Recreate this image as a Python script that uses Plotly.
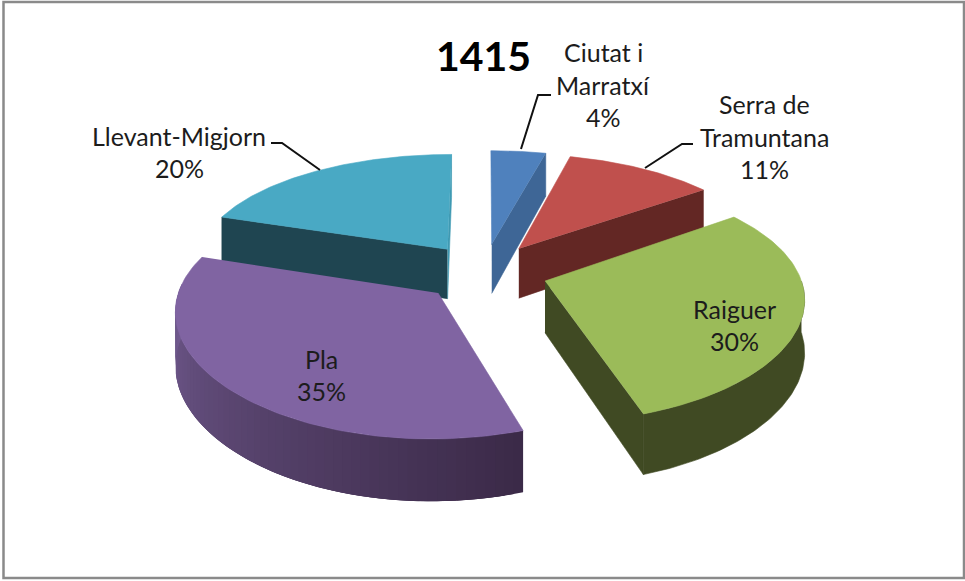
import numpy as np
import plotly.graph_objects as go

# ---- data ----
categories = ["Ciutat i Marratxí", "Serra de Tramuntana", "Raiguer", "Pla", "Llevant-Migjorn"]
values = [4, 11, 30, 35, 20]
title_text = "1415"
top_colors = ["#4f81bd", "#c0504d", "#9bbb59", "#8064a2", "#49a9c4"]
wall_colors = ["#3e6696", "#632724", "#404a23", "#5a4674", "#1f4551"]

# ---- projection of the tilted, exploded pie (circle in a plane seen in perspective) ----
CX, CY, RX, RY, KX, KY, EXPLODE, DEPTH = 484.0, 272.0, 254.0, 116.0, 0.125, 0.155, 0.25, 51.0


def project(u, v, down=0.0):
    sx = 1.0 / (1.0 + KX * v)
    sy = 1.0 / (1.0 + KY * v)
    return CX + RX * u * sx, CY - RY * v * sy + down * sy


total = sum(values)
edges = np.cumsum([0] + values) / total * 2 * np.pi
fig = go.Figure()


def poly(xs, ys, color, lw=0.6):
    fig.add_trace(go.Scatter(x=list(xs), y=list(ys), mode="lines", fill="toself", fillcolor=color,
                             line=dict(color=color, width=lw), hoverinfo="skip", showlegend=False))


def mix(c1, c2, f):
    a = [int(c1[i:i + 2], 16) for i in (1, 3, 5)]
    b = [int(c2[i:i + 2], 16) for i in (1, 3, 5)]
    return "#%02x%02x%02x" % tuple(int(round(p + (q - p) * f)) for p, q in zip(a, b))


def slice_geo(i):
    t0, t1 = edges[i], edges[i + 1]
    mid = (t0 + t1) / 2
    return t0, t1, EXPLODE * np.sin(mid), EXPLODE * np.cos(mid)


def draw(i):
    t0, t1, au, av = slice_geo(i)
    # radial walls
    for t in (t0, t1):
        ru, rv = au + np.sin(t), av + np.cos(t)
        normal_v = np.sin(t) if t == t0 else -np.sin(t)
        sliver = t == t1 and i == 4
        if normal_v < -1e-9 or sliver:
            x1, y1 = project(au, av)
            x2, y2 = project(ru, rv)
            x3, y3 = project(ru, rv, DEPTH)
            x4, y4 = project(au, av, DEPTH)
            c = "#3f9ab3" if sliver else wall_colors[i]
            poly([x1, x2, x3, x4], [y1, y2, y3, y4], c)
    # rim wall; the purple one is shaded along its length with overlapping strips
    lo, hi = max(t0, np.pi / 2), min(t1, 3 * np.pi / 2 + 0.08)
    if hi > lo:
        if i == 3:
            n = 60
            ts = np.linspace(lo, hi, n + 1)
            for j in range(n):
                tt = np.linspace(ts[j], ts[min(j + 3, n)], 6)
                u, v = au + np.sin(tt), av + np.cos(tt)
                xa, ya = project(u, v)
                xb, yb = project(u, v, DEPTH)
                poly(np.r_[xa, xb[::-1]], np.r_[ya, yb[::-1]], mix("#3b2a48", "#725b90", j / (n - 1)), lw=0)
        else:
            tt = np.linspace(lo, hi, 80)
            u, v = au + np.sin(tt), av + np.cos(tt)
            xa, ya = project(u, v)
            xb, yb = project(u, v, DEPTH)
            poly(np.r_[xa, xb[::-1]], np.r_[ya, yb[::-1]], wall_colors[i])
    # top face
    tt = np.linspace(t0, t1, 90)
    u = np.r_[au, au + np.sin(tt)]
    v = np.r_[av, av + np.cos(tt)]
    x, y = project(u, v)
    poly(x, y, top_colors[i])


for i in [0, 1, 4, 2, 3]:
    draw(i)

# ---- leader lines ----
leaders = [([521, 538, 551], [149, 95, 95]),
           ([645, 682, 693], [168, 144, 144]),
           ([320, 282, 271], [170, 143, 143])]
for lx, ly in leaders:
    fig.add_trace(go.Scatter(x=lx, y=ly, mode="lines", line=dict(color="#111111", width=2),
                             hoverinfo="skip", showlegend=False))

# ---- labels ----
pct = [f"{round(v / total * 100)}%" for v in values]
label_lines = [
    (["Ciutat i", "Marratxí", pct[0]], 603, [52, 85, 117]),
    (["Serra de", "Tramuntana", pct[1]], 764, [104, 137, 169]),
    ([categories[2], pct[2]], 734, [309, 341]),
    ([categories[3], pct[3]], 321, [359, 391]),
    ([categories[4], pct[4]], 179, [136, 168]),
]
annotations = [dict(x=483, y=55, text=f"<b>{title_text}</b>", showarrow=False, xanchor="center", yanchor="middle",
                    font=dict(family="Lato", size=41, color="#000000"))]
for lines, lx, lys in label_lines:
    for txt, ly in zip(lines, lys):
        annotations.append(dict(x=lx, y=ly, text=txt, showarrow=False, xanchor="center", yanchor="middle",
                                font=dict(family="Lato", size=25, color="#1c1c1c")))

fig.update_layout(
    width=965, height=581, margin=dict(l=0, r=0, t=0, b=0),
    paper_bgcolor="white", plot_bgcolor="white", showlegend=False,
    xaxis=dict(range=[0, 965], visible=False, fixedrange=True),
    yaxis=dict(range=[581, 0], visible=False, fixedrange=True),
    annotations=annotations,
    shapes=[dict(type="rect", xref="x", yref="y", x0=3.5, x1=964, y0=2, y1=578,
                 line=dict(color="#8a8a8a", width=2.5), fillcolor="rgba(0,0,0,0)", layer="below")],
)
fig.write_html("out.html", config=dict(displayModeBar=False),
               post_script="document.body.style.margin='0';document.body.style.overflow='hidden';")
